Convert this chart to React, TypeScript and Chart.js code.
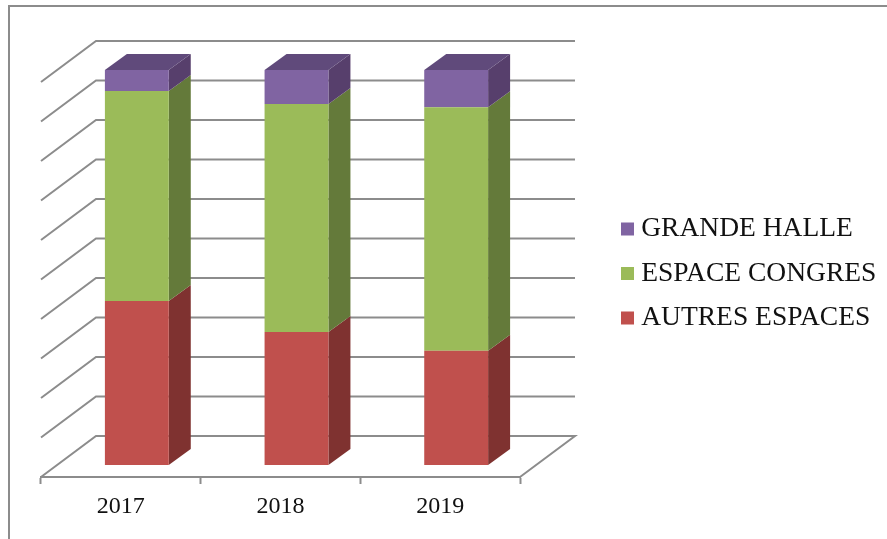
import React, { useEffect, useRef } from "react";
import { Chart, registerables } from "chart.js";

Chart.register(...registerables);

const categories = ["2017", "2018", "2019"];
const autresEspaces = [41.5, 33.7, 28.9];
const espaceCongres = [53.2, 57.7, 61.7];
const grandeHalle = [5.3, 8.6, 9.4];

const RED = "#C0504D";
const GREEN = "#9BBB59";
const PURPLE = "#8064A2";
const SIDE: Record<string, string> = { [RED]: "#7F3230", [GREEN]: "#647A3A", [PURPLE]: "#573F6C" };
const TOP_FACE = "#604A7B";
const GRID = "#8C8C8C";
const SERIF = "'Liberation Serif'";

// oblique projection of the 3D box
const WALL_DX = 55;
const WALL_DY = -41;
const BAR_DX = 16;
const BAR_DY = -12;
const DEPTH_DX = 22;
const DEPTH_DY = -16;

const threeD = {
  id: "threeD",
  beforeDraw(chart: any) {
    const { ctx, width, height } = chart;
    ctx.save();
    ctx.fillStyle = "#fff";
    ctx.fillRect(0, 0, width, height);
    ctx.strokeStyle = GRID;
    ctx.lineWidth = 2;
    ctx.beginPath();
    ctx.moveTo(width, 6);
    ctx.lineTo(9, 6);
    ctx.lineTo(9, height);
    ctx.stroke();
    ctx.restore();
  },
  afterLayout(chart: any) {
    const legend = chart.legend;
    legend.left = 610.5;
    legend.right = 887;
    legend.top = 198.25;
    legend.bottom = 539;
  },
  beforeDatasetsDraw(chart: any) {
    const { ctx, chartArea } = chart;
    const yScale = chart.scales.y;
    ctx.save();
    ctx.strokeStyle = GRID;
    ctx.lineWidth = 2;
    yScale.ticks.forEach((t: any) => {
      const y = yScale.getPixelForValue(t.value);
      ctx.beginPath();
      ctx.moveTo(chartArea.left, y);
      ctx.lineTo(chartArea.left + WALL_DX, y + WALL_DY);
      ctx.lineTo(chartArea.right + WALL_DX, y + WALL_DY);
      if (t.value === 0) ctx.lineTo(chartArea.right, y);
      ctx.stroke();
    });
    ctx.restore();

    ctx.save();
    ctx.translate(BAR_DX, BAR_DY);
    const last = chart.data.datasets.length - 1;
    chart.data.datasets.forEach((ds: any, di: number) => {
      chart.getDatasetMeta(di).data.forEach((bar: any) => {
        const r = bar.x + bar.width / 2;
        const l = bar.x - bar.width / 2;
        ctx.fillStyle = SIDE[ds.backgroundColor];
        ctx.beginPath();
        ctx.moveTo(r, bar.y);
        ctx.lineTo(r + DEPTH_DX, bar.y + DEPTH_DY);
        ctx.lineTo(r + DEPTH_DX, bar.base + DEPTH_DY);
        ctx.lineTo(r, bar.base);
        ctx.closePath();
        ctx.fill();
        if (di === last) {
          ctx.fillStyle = TOP_FACE;
          ctx.beginPath();
          ctx.moveTo(l, bar.y);
          ctx.lineTo(l + DEPTH_DX, bar.y + DEPTH_DY);
          ctx.lineTo(r + DEPTH_DX, bar.y + DEPTH_DY);
          ctx.lineTo(r, bar.y);
          ctx.closePath();
          ctx.fill();
        }
      });
    });
  },
  afterDatasetsDraw(chart: any) {
    chart.ctx.restore();
  },
};

export default function App() {
  const ref = useRef<HTMLCanvasElement>(null);
  useEffect(() => {
    document.body.style.margin = "0";
    const chart = new Chart(ref.current!, {
      type: "bar",
      data: {
        labels: categories,
        datasets: [
          { label: "AUTRES ESPACES", data: autresEspaces, backgroundColor: RED },
          { label: "ESPACE CONGRES", data: espaceCongres, backgroundColor: GREEN },
          { label: "GRANDE HALLE", data: grandeHalle, backgroundColor: PURPLE },
        ],
      },
      options: {
        responsive: false,
        animation: false,
        layout: { padding: { left: 41, top: 82, right: 267, bottom: 18 } },
        datasets: { bar: { categoryPercentage: 1, barPercentage: 0.4 } },
        scales: {
          x: {
            stacked: true,
            offset: true,
            afterFit: (s: any) => {
              s.height = 44;
            },
            border: { color: GRID, width: 2 },
            grid: { drawOnChartArea: false, drawTicks: true, tickLength: 7, tickWidth: 2, tickColor: GRID, color: GRID },
            ticks: { padding: 8, color: "#111", maxRotation: 0, font: { family: SERIF, size: 24 } },
          },
          y: {
            stacked: true,
            min: 0,
            max: 100,
            display: false,
            ticks: { stepSize: 10 },
          },
        },
        plugins: {
          tooltip: { enabled: false },
          legend: {
            position: "right",
            align: "start",
            reverse: true,
            maxWidth: 100,
            labels: {
              usePointStyle: true,
              pointStyle: "rect",
              boxWidth: 0.01,
              boxHeight: 13,
              padding: 17,
              color: "#111",
              font: { family: SERIF, size: 27.5 },
            },
          },
        },
      },
      plugins: [threeD],
    } as any);
    return () => chart.destroy();
  }, []);
  return <canvas ref={ref} width={887} height={539} style={{ position: "fixed", left: 0, top: 0, display: "block" }} />;
}
